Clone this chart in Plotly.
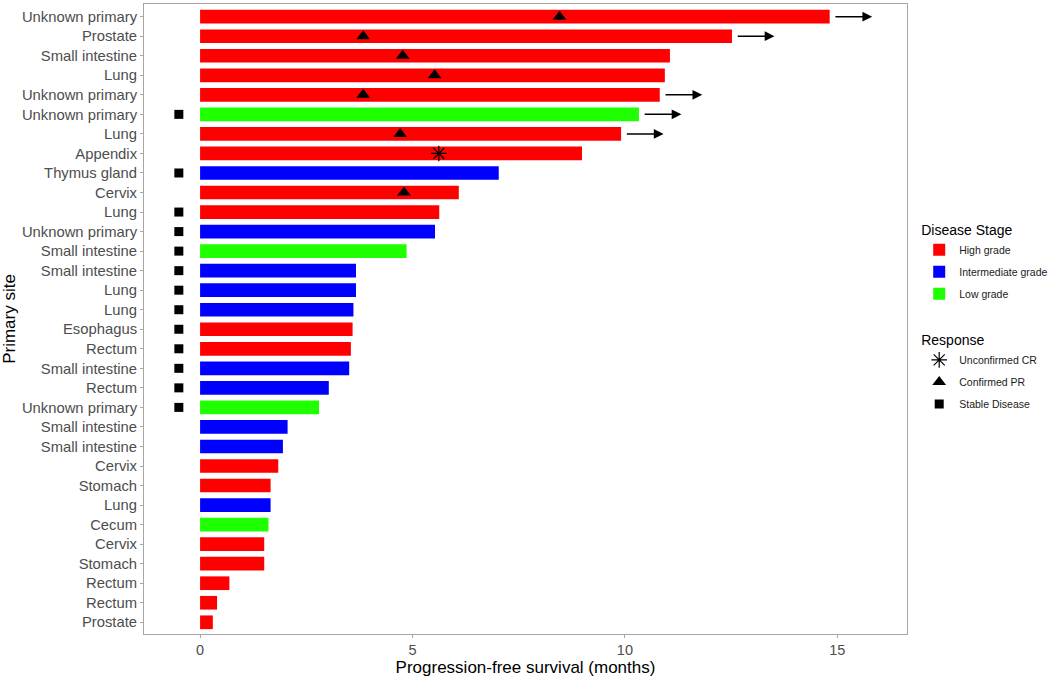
import plotly.graph_objects as go

sites = ["Unknown primary", "Prostate", "Small intestine", "Lung", "Unknown primary",
         "Unknown primary", "Lung", "Appendix", "Thymus gland", "Cervix", "Lung",
         "Unknown primary", "Small intestine", "Small intestine", "Lung", "Lung",
         "Esophagus", "Rectum", "Small intestine", "Rectum", "Unknown primary",
         "Small intestine", "Small intestine", "Cervix", "Stomach", "Lung", "Cecum",
         "Cervix", "Stomach", "Rectum", "Rectum", "Prostate"]
pfs = [14.82, 12.52, 11.06, 10.94, 10.82, 10.33, 9.91, 8.99, 7.03, 6.09, 5.63,
       5.53, 4.86, 3.67, 3.67, 3.61, 3.59, 3.55, 3.51, 3.03, 2.80, 2.06, 1.95,
       1.84, 1.66, 1.66, 1.61, 1.51, 1.51, 0.69, 0.40, 0.30]
stage = ["High grade", "High grade", "High grade", "High grade", "High grade",
         "Low grade", "High grade", "High grade", "Intermediate grade", "High grade",
         "High grade", "Intermediate grade", "Low grade", "Intermediate grade",
         "Intermediate grade", "Intermediate grade", "High grade", "High grade",
         "Intermediate grade", "Intermediate grade", "Low grade", "Intermediate grade",
         "Intermediate grade", "High grade", "High grade", "Intermediate grade",
         "Low grade", "High grade", "High grade", "High grade", "High grade", "High grade"]
response = ["Confirmed PR", "Confirmed PR", "Confirmed PR", "Confirmed PR", "Confirmed PR",
            "Stable Disease", "Confirmed PR", "Unconfirmed CR", "Stable Disease",
            "Confirmed PR"] + ["Stable Disease"] * 11 + [None] * 11
response_time = [8.46, 3.84, 4.77, 5.52, 3.84, -0.5, 4.71, 5.62, -0.5, 4.80] + [-0.5] * 11 + [None] * 11
ongoing = [True, True, False, False, True, True, True] + [False] * 25

stage_colors = {"High grade": "#FF0000", "Intermediate grade": "#0000FF", "Low grade": "#1EFF00"}
resp_symbols = {"Unconfirmed CR": "asterisk-open", "Confirmed PR": "triangle-up", "Stable Disease": "square"}
resp_sizes = {"Unconfirmed CR": 13, "Confirmed PR": 12, "Stable Disease": 9}

n = len(sites)
ypos = [n - i for i in range(n)]

fig = go.Figure()

for s, col in stage_colors.items():
    idx = [i for i in range(n) if stage[i] == s]
    fig.add_trace(go.Bar(
        x=[pfs[i] for i in idx], y=[ypos[i] for i in idx], orientation="h",
        marker=dict(color=col, line=dict(width=0)), width=0.7, name=s,
        legend="legend", legendgroup=s, showlegend=True))

for r, sym in resp_symbols.items():
    idx = [i for i in range(n) if response[i] == r]
    fig.add_trace(go.Scatter(
        x=[response_time[i] for i in idx], y=[ypos[i] for i in idx], mode="markers",
        marker=dict(symbol=sym, size=resp_sizes[r], color="black",
                    line=dict(color="black", width=1.2 if r == "Unconfirmed CR" else 0)),
        name=r, legend="legend2", legendgroup=r, showlegend=True))

for i in range(n):
    if ongoing[i]:
        fig.add_annotation(x=pfs[i] + 1.0, y=ypos[i], ax=pfs[i] + 0.1, ay=ypos[i],
                           xref="x", yref="y", axref="x", ayref="y", showarrow=True,
                           arrowhead=2, arrowsize=1.3, arrowwidth=1.5, arrowcolor="black",
                           text="")

axis_col = "#A6A6A6"
fig.update_layout(
    width=1050, height=677,
    margin=dict(l=144, r=143, t=4, b=43, autoexpand=False),
    plot_bgcolor="white", paper_bgcolor="white",
    barmode="overlay",
    font=dict(family="Liberation Sans, Arial, sans-serif", color="#4D4D4D"),
    xaxis=dict(range=[-1.32, 16.64], tickvals=[0, 5, 10, 15], showgrid=False, zeroline=False,
               showline=True, mirror=True, linecolor=axis_col, linewidth=1,
               ticks="outside", ticklen=3, tickcolor=axis_col, automargin=False,
               tickfont=dict(size=14.5, color="#4D4D4D"),
               title=dict(text="Progression-free survival (months)", font=dict(size=17, color="black"), standoff=2)),
    yaxis=dict(range=[0.4, 32.65], tickvals=ypos, ticktext=sites, showgrid=False, zeroline=False,
               showline=True, mirror=True, linecolor=axis_col, linewidth=1,
               ticks="outside", ticklen=3, tickcolor=axis_col, automargin=False,
               tickfont=dict(size=14.8, color="#4D4D4D"),
               title=dict(text="Primary site", font=dict(size=17, color="black"), standoff=2)),
    legend=dict(x=1.016, y=0.662, xanchor="left", yanchor="top",
                title=dict(text="Disease Stage", font=dict(size=14, color="black")),
                font=dict(size=10.5, color="#1a1a1a"), tracegroupgap=3, itemwidth=30),
    legend2=dict(x=1.016, y=0.487, xanchor="left", yanchor="top",
                 title=dict(text="Response", font=dict(size=14, color="black")),
                 font=dict(size=10.5, color="#1a1a1a"), tracegroupgap=3, itemwidth=30),
)

fig.write_html("out.html", post_script="document.body.style.margin='0';",
               config={"displayModeBar": False})
